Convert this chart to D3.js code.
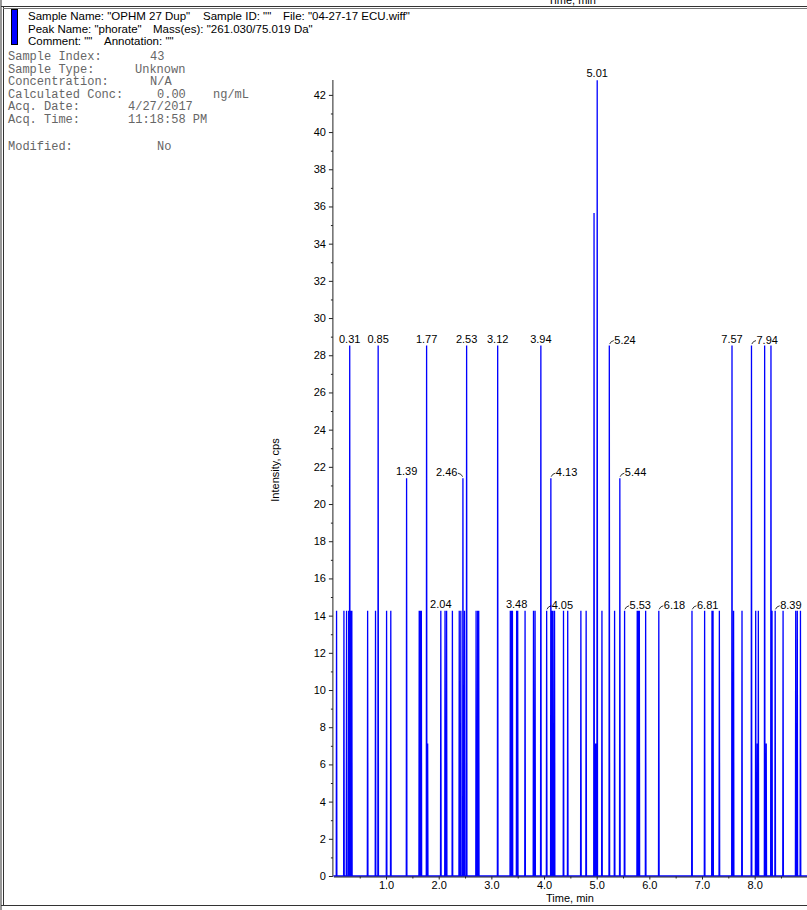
<!DOCTYPE html>
<html>
<head>
<meta charset="utf-8">
<script src="https://cdn.jsdelivr.net/npm/d3@7"></script>
<style>
  html, body { margin: 0; padding: 0; background: #fff; }
  svg { display: block; }
  .sans { font-family: "Liberation Sans", Arial, Helvetica, sans-serif; }
  .mono { font-family: "Liberation Mono", "Courier New", Courier, monospace; }
</style>
</head>
<body>
<svg id="chart" width="807" height="910"></svg>
<script>
// ---------- data ----------
const spikeTimes = [
  0.06, 0.20, 0.25, 0.29, 0.31, 0.33, 0.35, 0.65, 0.80, 0.85,
  1.01, 1.09, 1.39, 1.63, 1.65, 1.67, 1.77, 1.79, 2.04, 2.12,
  2.15, 2.26, 2.39, 2.42, 2.46, 2.49, 2.53, 2.71, 2.74, 2.76,
  3.12, 3.36, 3.38, 3.40, 3.48, 3.50, 3.64, 3.80, 3.83, 3.94,
  4.05, 4.13, 4.15, 4.17, 4.20, 4.37, 4.45, 4.70, 4.80, 4.95,
  4.98, 5.01, 5.10, 5.24, 5.34, 5.44, 5.53, 5.77, 5.79, 5.81,
  5.93, 6.18, 6.81, 7.05, 7.19, 7.21, 7.33, 7.57, 7.60, 7.76,
  7.94, 8.02, 8.05, 8.07, 8.19, 8.22, 8.31, 8.33, 8.39, 8.54,
  8.78, 8.81, 8.87
];
const spikeHeights = [
  14.26, 14.26, 14.26, 14.26, 28.52, 14.26, 14.26, 14.26, 14.26, 28.52,
  14.26, 14.26, 21.39, 14.26, 14.26, 14.26, 28.52, 7.13, 14.26, 14.26,
  14.26, 14.26, 14.26, 14.26, 21.39, 14.26, 28.52, 14.26, 14.26, 14.26,
  28.52, 14.26, 14.26, 14.26, 14.26, 14.26, 14.26, 14.26, 14.26, 28.52,
  14.26, 21.39, 14.26, 14.26, 14.26, 14.26, 14.26, 14.26, 14.26, 35.65,
  7.13, 42.78, 14.26, 28.52, 14.26, 21.39, 14.26, 14.26, 14.26, 14.26,
  14.26, 14.26, 14.26, 14.26, 14.26, 14.26, 14.26, 28.52, 14.26, 14.26,
  28.52, 14.26, 7.13, 14.26, 28.52, 7.13, 28.52, 14.26, 14.26, 14.26,
  14.26, 14.26, 14.26
];
const peakLabels = ["0.31","0.85","1.39","1.77","2.04","2.46","2.53","3.12","3.48","3.94",
                    "4.05","4.13","5.01","5.24","5.44","5.53","6.18","6.81","7.57","7.94","8.39"];
const peakLabelStyle = ["c","c","c","c","c","l","c","c","c","c",
                        "r","r","c","r","r","r","r","r","c","r","r"];

const yTicks = d3.range(0, 43, 2);
const yMinorTicks = d3.range(1, 43, 2);
const xTicks = [1, 2, 3, 4, 5, 6, 7, 8];
const xMinorTicks = [0.5, 1.5, 2.5, 3.5, 4.5, 5.5, 6.5, 7.5, 8.5];

const headerLines = [
  [['Sample Name: "OPHM 27 Dup"', 28], ['Sample ID: ""', 203], ['File: "04-27-17 ECU.wiff"', 283]],
  [['Peak Name: "phorate"', 28], ['Mass(es): "261.030/75.019 Da"', 153]],
  [['Comment: ""', 28], ['Annotation: ""', 104]]
];
const infoKeys = ["Sample Index:", "Sample Type:", "Concentration:", "Calculated Conc:", "Acq. Date:", "Acq. Time:", "", "Modified:"];
const infoVals = ["43", "Unknown", "N/A", "0.00", "4/27/2017", "11:18:58 PM", "", "No"];
const infoValX = [150, 135, 150, 157, 128, 128, 0, 157];

// ---------- drawing ----------
const svg = d3.select("#chart");
const ink = "#000";

// frame
svg.append("line").attr("x1", 1).attr("x2", 1).attr("y1", 0).attr("y2", 910).attr("stroke", "#333");
svg.append("line").attr("x1", 3.5).attr("x2", 3.5).attr("y1", 7).attr("y2", 905).attr("stroke", "#333");
svg.append("line").attr("x1", 1).attr("x2", 807).attr("y1", 6.5).attr("y2", 6.5).attr("stroke", "#333");
svg.append("line").attr("x1", 3).attr("x2", 807).attr("y1", 8.5).attr("y2", 8.5).attr("stroke", "#777");
svg.append("line").attr("x1", 1).attr("x2", 807).attr("y1", 905.5).attr("y2", 905.5).attr("stroke", "#333");

// cut-off label of the panel above (the reference shows only its lower part)
svg.append("text").attr("class", "sans").attr("x", 572).attr("y", 4)
  .attr("text-anchor", "middle").attr("font-size", 11).attr("fill", ink).text("Time, min");

// legend swatch
svg.append("rect").attr("x", 11.5).attr("y", 9.5).attr("width", 6).attr("height", 35)
  .attr("fill", "#0000ff").attr("stroke", "#000").attr("stroke-width", 1);

// header
headerLines.forEach((segs, i) => {
  segs.forEach(([txt, x]) => {
    svg.append("text").attr("class", "sans").attr("x", x).attr("y", 20 + i * 12.5)
      .attr("font-size", 11.5).attr("fill", ink).text(txt);
  });
});

const infoY = [60, 72.5, 85, 97.5, 110, 122.5, 135, 150];
infoKeys.forEach((k, i) => {
  if (!k) return;
  svg.append("text").attr("class", "mono").attr("x", 8).attr("y", infoY[i])
    .attr("font-size", 12).attr("fill", "#666").text(k);
  svg.append("text").attr("class", "mono").attr("x", infoValX[i]).attr("y", infoY[i])
    .attr("font-size", 12).attr("fill", "#666").text(infoVals[i]);
});
svg.append("text").attr("class", "mono").attr("x", 213).attr("y", infoY[3])
  .attr("font-size", 12).attr("fill", "#666").text("ng/mL");

// scales
const x = d3.scaleLinear().domain([0, 9]).range([333.4, 807.3]);
const y = d3.scaleLinear().domain([0, 42.8]).range([876, 80]);

// trace
const dt = 0.006;
const pts = [[0, 0]];
spikeTimes.forEach((t, i) => {
  pts.push([t - dt, 0], [t, spikeHeights[i]], [t + dt, 0]);
});
pts.push([9, 0]);
svg.append("path")
  .attr("d", d3.line().x(d => x(d[0])).y(d => y(d[1]))(pts))
  .attr("fill", "none").attr("stroke", "#0000ff").attr("stroke-width", 1.3)
  .attr("stroke-linejoin", "miter");

// y axis
const gy = svg.append("g").attr("transform", `translate(${x(0) - 0.5},0)`);
gy.call(d3.axisLeft(y).tickValues(yTicks).tickSize(4).tickSizeOuter(0).tickPadding(3));
gy.append("g").call(d3.axisLeft(y).tickValues(yMinorTicks).tickSize(2).tickFormat("").tickSizeOuter(0))
  .select(".domain").remove();
gy.select(".domain").attr("d", `M0,${y(0)}V${y(42.8)}`);
gy.selectAll("text").attr("class", "sans").attr("font-size", 11).attr("fill", ink);
gy.selectAll("line, path").attr("stroke", "#222");

// x axis
const gx = svg.append("g").attr("transform", `translate(0,${y(0) + 0.5})`);
gx.call(d3.axisBottom(x).tickValues(xTicks).tickSize(3).tickSizeOuter(0).tickPadding(2).tickFormat(d3.format(".1f")));
gx.append("g").call(d3.axisBottom(x).tickValues(xMinorTicks).tickSize(2).tickFormat("").tickSizeOuter(0))
  .select(".domain").remove();
gx.selectAll("text").attr("class", "sans").attr("font-size", 11).attr("fill", ink);
gx.selectAll("line, path").attr("stroke", "#222");

// axis titles
svg.append("text").attr("class", "sans").attr("x", 570).attr("y", 902)
  .attr("text-anchor", "middle").attr("font-size", 11).attr("fill", ink).text("Time, min");
svg.append("text").attr("class", "sans")
  .attr("transform", "translate(279,470) rotate(-90)")
  .attr("text-anchor", "middle").attr("font-size", 11).attr("fill", ink).text("Intensity, cps");

// peak labels
peakLabels.forEach((lab, i) => {
  const t = +lab;
  const k = spikeTimes.indexOf(t);
  const h = spikeHeights[k];
  const px = x(t), py = y(h);
  const g = svg.append("g");
  if (peakLabelStyle[i] === "c") {
    g.append("text").attr("class", "sans").attr("x", px).attr("y", py - 3)
      .attr("text-anchor", "middle").attr("font-size", 11).attr("fill", ink).text(lab);
  } else if (peakLabelStyle[i] === "r") {
    g.append("path").attr("d", `M${px + 0.3},${py - 1.5} Q${px + 1.5},${py - 4.5} ${px + 4.5},${py - 5}`)
      .attr("fill", "none").attr("stroke", "#000").attr("stroke-width", 0.8);
    g.append("text").attr("class", "sans").attr("x", px + 5).attr("y", py - 2)
      .attr("font-size", 11).attr("fill", ink).text(lab);
  } else {
    g.append("path").attr("d", `M${px - 0.3},${py - 1.5} Q${px - 1.5},${py - 4.5} ${px - 5},${py - 5}`)
      .attr("fill", "none").attr("stroke", "#000").attr("stroke-width", 0.8);
    g.append("text").attr("class", "sans").attr("x", px - 5.5).attr("y", py - 2)
      .attr("text-anchor", "end").attr("font-size", 11).attr("fill", ink).text(lab);
  }
});
</script>
</body>
</html>
